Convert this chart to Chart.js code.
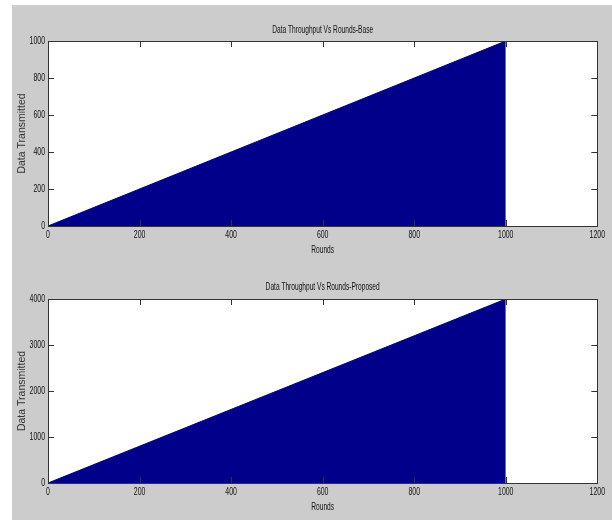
<!DOCTYPE html>
<html>
<head>
<meta charset="utf-8">
<script src="https://cdn.jsdelivr.net/npm/chart.js@4"></script>
<style>
  body { margin: 0; background: #fff; }
  #bg { position: absolute; left: 12px; top: 5px; width: 600px; height: 515px; background: #cccccc; }
  .box { position: absolute; left: 0; width: 612px; height: 260px; }
</style>
</head>
<body>
<div id="bg"></div>
<div class="box" style="top:0"><canvas id="c1"></canvas></div>
<div class="box" style="top:260px"><canvas id="c2"></canvas></div>
<script>
// Données
const rounds = [0, 1000];
const baseData = [0, 1000];
const proposedData = [0, 4000];
const xTicks = [0, 200, 400, 600, 800, 1000, 1200];
const baseTicks = [0, 200, 400, 600, 800, 1000];
const proposedTicks = [0, 1000, 2000, 3000, 4000];

// police "étroite" : pas installée, on resserre le texte à l'affichage
const narrow = "'Liberation Sans Narrow', 'Liberation Sans', Arial, sans-serif";
const regular = "'Liberation Sans', Arial, sans-serif";

const condensePlugin = {
  id: 'condense',
  beforeDraw(chart) {
    const ctx = chart.ctx;
    if (ctx._condensed) return;
    const orig = ctx.fillText.bind(ctx);
    ctx.fillText = (t, x, y, w) => {
      if (!ctx.font.includes('Narrow')) return w === undefined ? orig(t, x, y) : orig(t, x, y, w);
      const m = ctx.measureText(t).width * 0.66;
      orig(t, x, y, w === undefined ? m : Math.min(w, m));
    };
    ctx._condensed = true;
  }
};

// Cadre MATLAB : fond blanc, bordure et graduations vers l'intérieur
const boxPlugin = {
  id: 'matlabBox',
  beforeDatasetsDraw(chart) {
    const { ctx, chartArea: a } = chart;
    ctx.save();
    ctx.fillStyle = '#fff';
    ctx.fillRect(a.left, a.top, a.right - a.left, a.bottom - a.top);
    ctx.restore();
  },
  afterDraw(chart) {
    const { ctx, chartArea: a, scales } = chart;
    const len = 6;
    ctx.save();
    ctx.strokeStyle = '#333';
    ctx.lineWidth = 1;
    ctx.beginPath();
    scales.x.ticks.forEach(t => {
      const px = Math.round(scales.x.getPixelForValue(t.value)) + 0.5;
      ctx.moveTo(px, a.bottom); ctx.lineTo(px, a.bottom - len);
      ctx.moveTo(px, a.top); ctx.lineTo(px, a.top + len);
    });
    scales.y.ticks.forEach(t => {
      const py = Math.round(scales.y.getPixelForValue(t.value)) + 0.5;
      ctx.moveTo(a.left, py); ctx.lineTo(a.left + len, py);
      ctx.moveTo(a.right, py); ctx.lineTo(a.right - len, py);
    });
    ctx.stroke();
    ctx.strokeRect(Math.round(a.left) + 0.5, Math.round(a.top) + 0.5,
      Math.round(a.right - a.left), Math.round(a.bottom - a.top));
    ctx.restore();
  }
};

function makeChart(id, title, values, yTicks, yMax, lay) {
  return new Chart(document.getElementById(id), {
    type: 'line',
    data: {
      datasets: [{
        data: rounds.map((r, i) => ({ x: r, y: values[i] })),
        fill: 'origin',
        backgroundColor: '#00008b',
        borderColor: '#00008b',
        borderWidth: 1,
        pointRadius: 0,
        tension: 0
      }]
    },
    options: {
      responsive: true,
      maintainAspectRatio: false,
      animation: false,
      layout: { autoPadding: false, padding: { left: 0, right: 13, top: lay.top, bottom: 0 } },
      plugins: {
        legend: { display: false },
        tooltip: { enabled: false },
        title: {
          display: true, text: title, fullSize: false, color: '#111',
          font: { family: narrow, size: 10, weight: 'normal' },
          padding: { top: 0, bottom: lay.titleGap }
        }
      },
      scales: {
        x: {
          type: 'linear', min: 0, max: 1200,
          afterBuildTicks: s => { s.ticks = xTicks.map(v => ({ value: v })); },
          afterFit: s => { s.height = lay.xHeight; },
          grid: { display: false, drawTicks: false },
          border: { display: false },
          ticks: { color: '#111', padding: 3, font: { family: narrow, size: 10.5 }, callback: v => String(v) },
          title: {
            display: true, text: 'Rounds', color: '#111',
            font: { family: narrow, size: 10 }, padding: { top: 0, bottom: lay.xTitleBottom }
          }
        },
        y: {
          min: 0, max: yMax,
          afterBuildTicks: s => { s.ticks = yTicks.map(v => ({ value: v })); },
          afterFit: s => { s.width = 48; },
          grid: { display: false, drawTicks: false },
          border: { display: false },
          ticks: { color: '#111', padding: 3, font: { family: narrow, size: 10.5 }, callback: v => String(v) },
          title: {
            display: true, text: 'Data Transmitted', color: '#333',
            font: { family: regular, size: 10.5 }, padding: { top: 16, bottom: 0 }
          }
        }
      }
    },
    plugins: [condensePlugin, boxPlugin]
  });
}

makeChart('c1', 'Data Throughput Vs Rounds-Base', baseData, baseTicks, 1000,
  { top: 24, titleGap: 5, xHeight: 34, xTitleBottom: 4 });
makeChart('c2', 'Data Throughput Vs Rounds-Proposed', proposedData, proposedTicks, 4000,
  { top: 21, titleGap: 6, xHeight: 37, xTitleBottom: 7 });
</script>
</body>
</html>
